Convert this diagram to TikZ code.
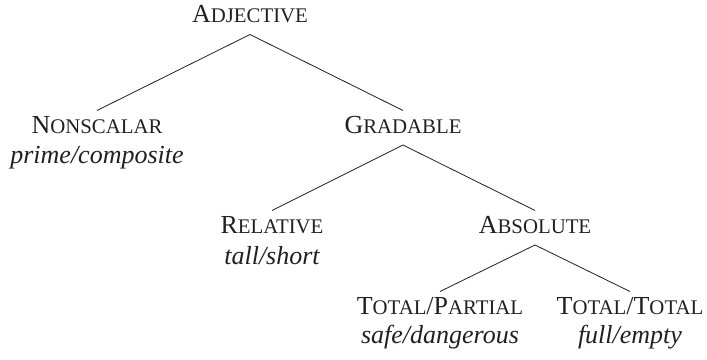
\documentclass[tikz,border=0pt]{standalone}
\usepackage{fontspec}
\setmainfont{Liberation Serif}
\newcommand\mysc[2]{#1{\fontsize{20.8pt}{20.8pt}\selectfont #2}}
\definecolor{ink}{HTML}{231F20}
\begin{document}
\begin{tikzpicture}[x=1pt,y=-1pt,
  cat/.style={anchor=base, inner sep=0pt, outer sep=0pt, text height=22.5pt, text depth=12pt,
    text=ink, font=\fontsize{26pt}{26pt}\selectfont},
  ex/.style={anchor=base, inner sep=0pt, text=ink, font=\fontsize{26pt}{26pt}\selectfont\itshape},
  branch/.style={draw=ink, line width=0.8pt}]
\useasboundingbox (0,0) rectangle (707,359);
\node[cat] (adj) at (250,22.5) {\mysc{A}{DJECTIVE}};
\node[cat] (nons) at (97,133) {\mysc{N}{ONSCALAR}};
\node[ex] (nonsex) at (97,163) {prime/composite};
\node[cat] (grad) at (403,133) {\mysc{G}{RADABLE}};
\node[cat] (rel) at (272,233) {\mysc{R}{ELATIVE}};
\node[ex] (relex) at (272,264) {tall/short};
\node[cat] (abs) at (535,233) {\mysc{A}{BSOLUTE}};
\node[cat] (tp) at (440,314) {\mysc{T}{OTAL}/\mysc{P}{ARTIAL}};
\node[ex] (tpex) at (440,343) {safe/dangerous};
\node[cat] (tt) at (630,314) {\mysc{T}{OTAL}/\mysc{T}{OTAL}};
\node[ex] (ttex) at (630,343) {full/empty};
\draw[branch] (nons.north) -- (adj.south) -- (grad.north);
\draw[branch] (rel.north) -- (grad.south) -- (abs.north);
\draw[branch] (tp.north) -- (abs.south) -- (tt.north);
\end{tikzpicture}
\end{document}
